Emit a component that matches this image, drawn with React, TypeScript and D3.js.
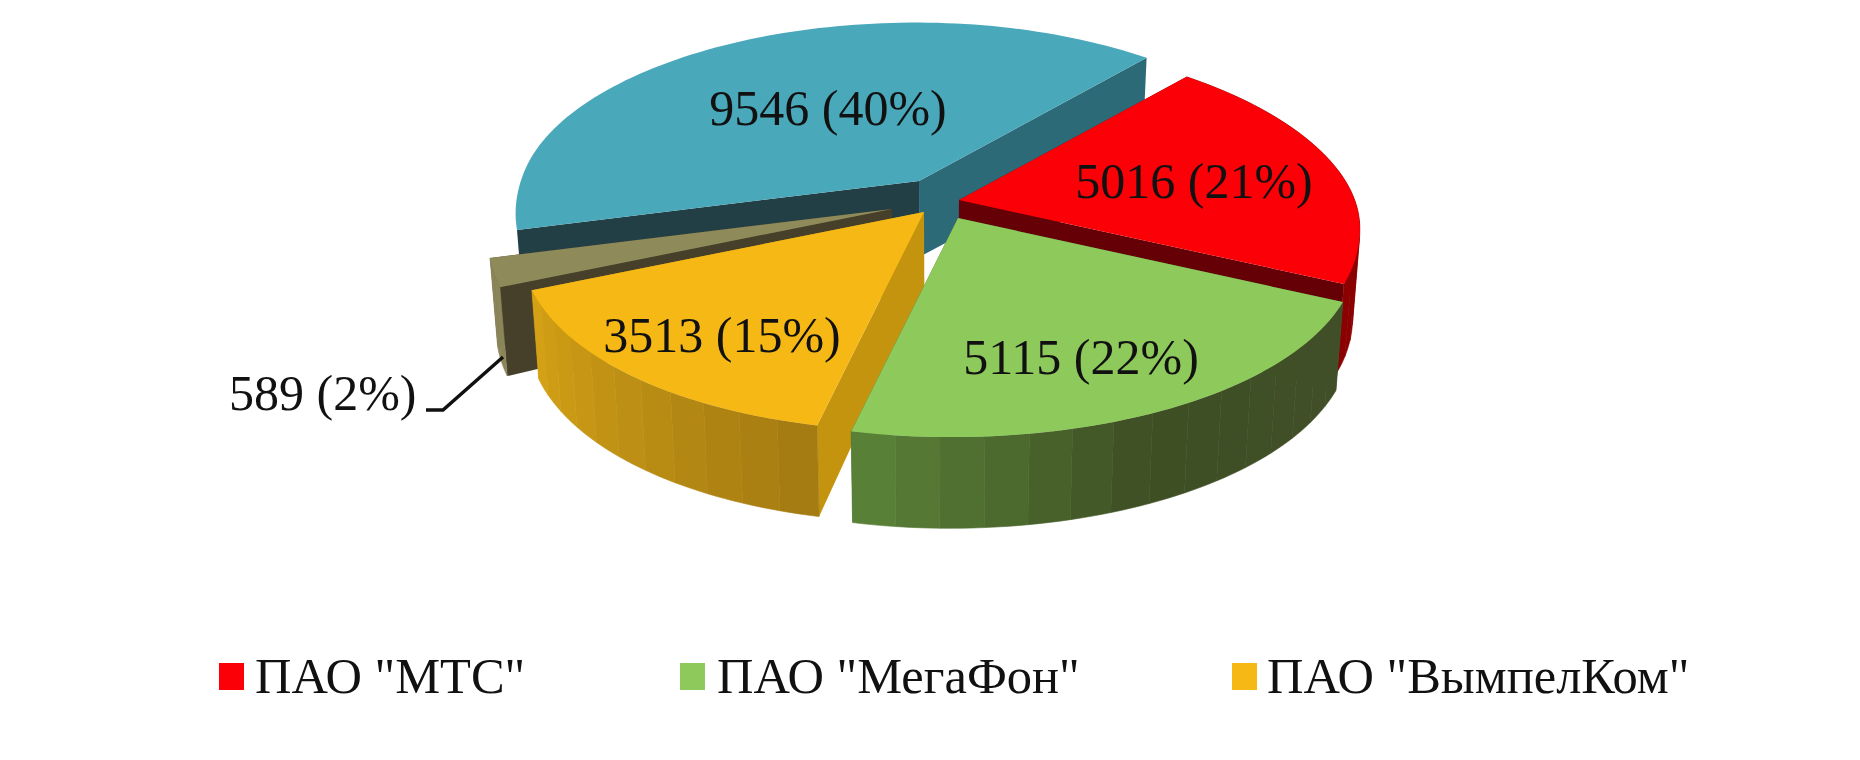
import React from "react";
import * as d3 from "d3";

const categories = ['ПАО "МТС"', 'ПАО "МегаФон"', 'ПАО "ВымпелКом"', "Прочие", "Т2 Мобайл"];
const values = [5016, 5115, 3513, 589, 9546];
const percents = [21, 22, 15, 2, 40];
const legendCount = 3;

const topColors = ["#fb0007", "#8ec95b", "#f6b815", "#8f8a5a", "#4aa8bb"];
const radialWallColors = ["#650007", "#4a5c2c", "#c4940f", "#46402a", "#2c6a78"];
const nearWallColors = ["#650007", "#4a5c2c", "#c4940f", "#46402a", "#223f46"];
const rimFrom = ["#8b0000", "#3e4f24", "#d6a316", "#8b8559", "#223f46"];
const rimTo = ["#8b0000", "#5b8438", "#a37a11", "#8b8559", "#223f46"];
const hasRim = [true, true, true, true, false];
const apexX = [959, 958, 924, 892, 919];
const apexY = [200, 218, 212, 209, 181];
const labelX = [1194, 1081, 722, 229, 828];
const labelY = [198, 374, 352, 410, 125];
const labelAnchor = ["middle", "middle", "middle", "start", "middle"];
const paintOrder = [4, 0, 3, 2, 1];
const legendSwatchX = [219, 680, 1232];
const legendTextX = [255, 717, 1267];

const RX = 400, RY = 174, TILT = 0.04, SHEAR = 0.2, DEPTH = 76, CENTER_X = 935, DRIFT = 0.017;
const toRad = Math.PI / 180;

const pieGen = d3.pie<number>().sort(null).startAngle(34 * toRad).endAngle(394 * toRad);
const arcs = pieGen(values);

type Pt = [number, number];

function project(i: number, deg: number, r: number, h: number): Pt {
  const a = deg * toRad;
  const u = Math.sin(a) * r;
  const v = -Math.cos(a) * r;
  const s = v < 0 ? 1 + 0.12 * v : 1 + 0.12 * v + 0.135 * v * v;
  const x0 = RX * u * s + 5 * u * u;
  const y0 = RY * v * s * (1 + 0.03 * Math.max(-v, 0)) + TILT * x0 + 6 * Math.max(u, 0) ** 2;
  const X = apexX[i] + x0 - SHEAR * y0;
  const Y = apexY[i] + y0;
  const dep = DEPTH * (1 + 0.2 * Math.max(v, 0) ** 2) + 12 * u * u;
  return [X - (X - CENTER_X) * DRIFT * h, Y + dep * h];
}

const line = d3.line<Pt>();

function Slice({ i }: { i: number }) {
  const a0 = arcs[i].startAngle / toRad;
  const a1 = arcs[i].endAngle / toRad;
  const steps = Math.max(4, Math.round((a1 - a0) / 1.5));
  const angles = d3.range(steps + 1).map((k) => a0 + ((a1 - a0) * k) / steps);
  const bands = Math.max(2, Math.round((a1 - a0) / 5));
  const bandAngles = d3.range(bands + 1).map((k) => a0 + ((a1 - a0) * k) / bands);
  const rimColor = d3.scaleLinear<string>().domain([a0, a1]).range([rimTo[i], rimFrom[i]]);
  const greenColor = d3
    .scaleLinear<string>()
    .domain([a0, a0 + (a1 - a0) * 0.55, a1])
    .range(["#414f28", "#3e4f24", "#5b8438"]);
  const colorOf = i === 1 ? greenColor : rimColor;

  const wall = (deg: number) =>
    line([project(i, deg, 0, 0), project(i, deg, 1, 0), project(i, deg, 1, 1), project(i, deg, 0, 1)]) + "Z";
  const top = [project(i, a0, 0, 0), ...angles.map((d) => project(i, d, 1, 0))];

  return (
    <g>
      <path d={wall(a1)} fill={i === 4 ? radialWallColors[i] : nearWallColors[i]} />
      <path d={wall(a0)} fill={i === 4 ? nearWallColors[i] : radialWallColors[i]} />
      {hasRim[i] &&
        bandAngles.slice(0, -1).map((d, k) => {
          const e = bandAngles[k + 1];
          const sub = d3.range(5).map((q) => d + ((e - d) * q) / 4);
          const pts = [...sub.map((x) => project(i, x, 1, 0)), ...sub.slice().reverse().map((x) => project(i, x, 1, 1))];
          const c = colorOf((d + e) / 2);
          return <path key={k} d={line(pts) + "Z"} fill={c} stroke={c} strokeWidth={0.6} />;
        })}
      <path d={line(top) + "Z"} fill={topColors[i]} />
    </g>
  );
}

export default function App() {
  const font = '"Liberation Serif", "Times New Roman", serif';
  return (
    <svg
      width={1860}
      height={760}
      viewBox="0 0 1860 760"
      style={{ position: "absolute", left: 0, top: 0, display: "block", background: "#fff" }}
    >
      {paintOrder.map((i) => (
        <Slice key={i} i={i} />
      ))}
      <path d="M426,410H443L503,357" fill="none" stroke="#111" strokeWidth={3.5} />
      {values.map((v, i) => (
        <text
          key={i}
          x={labelX[i]}
          y={labelY[i]}
          textAnchor={labelAnchor[i] as "middle" | "start"}
          fontFamily={font}
          fontSize={50}
          fill="#111"
        >
          {`${v} (${percents[i]}%)`}
        </text>
      ))}
      {categories.slice(0, legendCount).map((c, i) => (
        <g key={c}>
          <rect x={legendSwatchX[i]} y={663} width={25} height={27} fill={topColors[i]} />
          <text x={legendTextX[i]} y={693} fontFamily={font} fontSize={50.5} fill="#111">
            {c}
          </text>
        </g>
      ))}
    </svg>
  );
}
